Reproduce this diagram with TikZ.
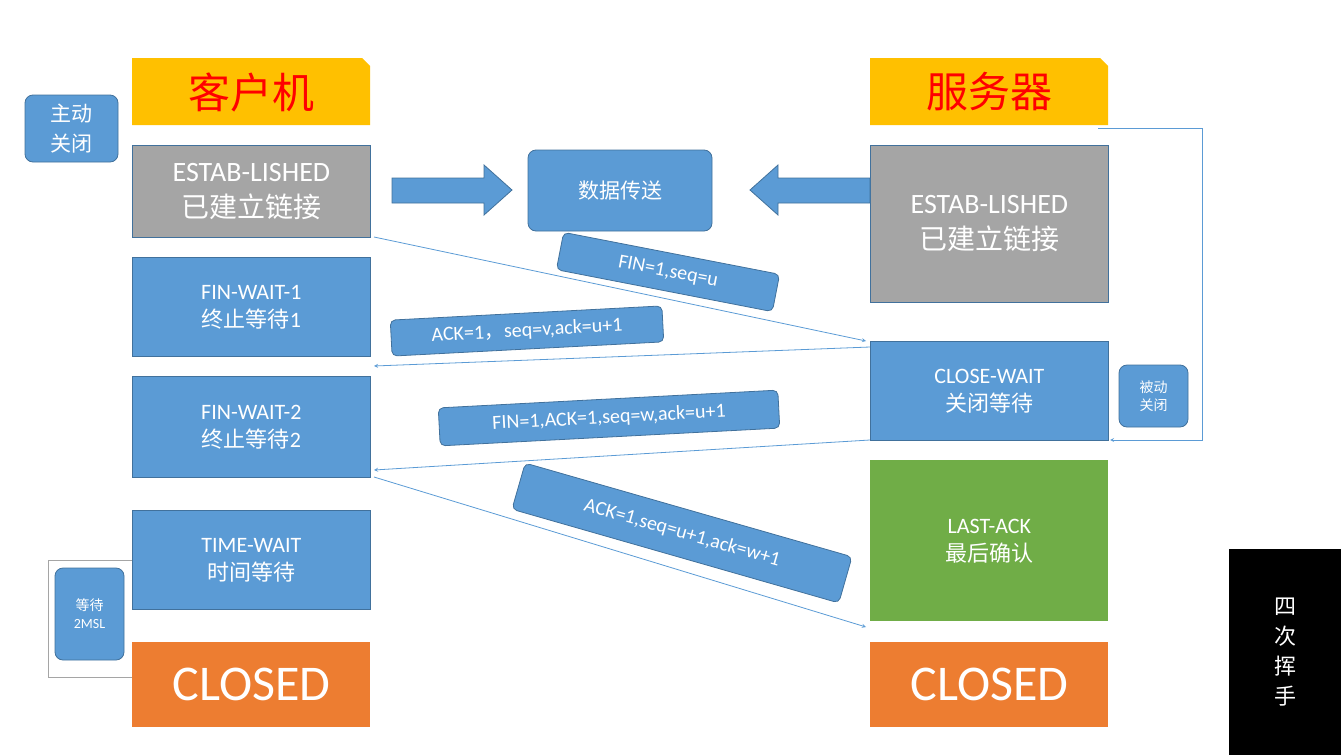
\documentclass[tikz,border=0pt]{standalone}
\usepackage{fontspec}
\setmainfont{Carlito}
\newfontfamily\cjk{Noto Sans CJK SC}
\definecolor{cb}{HTML}{5B9BD5}
\definecolor{cg}{HTML}{A5A5A5}
\definecolor{co}{HTML}{ED7D31}
\definecolor{cgr}{HTML}{70AD47}
\definecolor{cy}{HTML}{FFC000}
\definecolor{cl}{HTML}{41719C}
\begin{document}
\begin{tikzpicture}[x=1pt,y=-1pt,
 st/.style={draw=cl,line width=0.8pt,minimum width=238pt,anchor=north west,text=white,align=center,inner sep=0pt,font=\fontsize{22}{28}\selectfont},
 lab/.style={draw=cl,line width=0.8pt,fill=cb,rounded corners=5pt,text=white,font=\fontsize{20}{22}\selectfont,inner sep=0pt},
 rb/.style={draw=cl,line width=0.8pt,fill=cb,rounded corners=8pt,text=white,align=center,inner sep=0pt,font=\cjk\fontsize{21}{30}\selectfont},
 ba/.style={fill=cb,draw=cl,line width=0.8pt},
 ln/.style={draw=cb,line width=0.8pt,-stealth}]
\useasboundingbox (0,0) rectangle (1341,755);
% headers
\fill[cy] (132,58)--(362,58)--(370,66)--(370,125)--(132,125)--cycle;
\node (hc) at (251,92) {\cjk\fontsize{42}{46}\selectfont\color{red}客户机};
\fill[cy] (870,58)--(1100,58)--(1108,66)--(1108,125)--(870,125)--cycle;
\node (hs) at (989,92) {\cjk\fontsize{42}{46}\selectfont\color{red}服务器};
% states
\node[st,fill=cg,minimum height=92pt,font=\fontsize{28}{36}\selectfont] (ce) at (132,145) {ESTAB-LISHED\\{\cjk 已建立链接}};
\node[st,fill=cb,minimum height=99pt] (fw1) at (132,257) {FIN-WAIT-1\\{\cjk 终止等待}1};
\node[st,fill=cb,minimum height=101pt] (fw2) at (132,376) {FIN-WAIT-2\\{\cjk 终止等待}2};
\node[st,fill=cb,minimum height=99pt] (tw) at (132,510) {TIME-WAIT\\{\cjk 时间等待}};
\node[st,fill=co,draw=none,minimum height=85pt,font=\fontsize{50}{54}\selectfont] (cc) at (132,642) {CLOSED};
\node[st,fill=cg,minimum height=157pt,font=\fontsize{28}{36}\selectfont] (se) at (870,145) {ESTAB-LISHED\\{\cjk 已建立链接}};
\node[st,fill=cb,minimum height=99pt] (cw) at (870,341) {CLOSE-WAIT\\{\cjk 关闭等待}};
\node[st,fill=cgr,draw=none,minimum height=161pt] (la) at (870,460) {LAST-ACK\\{\cjk 最后确认}};
\node[st,fill=co,draw=none,minimum height=85pt,font=\fontsize{50}{54}\selectfont] (sc) at (870,642) {CLOSED};
% side labels
\node[rb,minimum width=93pt,minimum height=67pt] (zd) at (71.5,128.5) {主动\\关闭};
\node[rb,minimum width=184pt,minimum height=81pt] (sj) at (620,190.5) {数据传送};
\node[rb,minimum width=69pt,minimum height=62pt,font=\cjk\fontsize{14}{18}\selectfont] (bd) at (1153.5,396) {被动\\关闭};
\node[rb,minimum width=69pt,minimum height=92pt,font=\fontsize{14}{18}\selectfont] (dd) at (89.5,614) {{\cjk 等待}\\2MSL};
% block arrows
\draw[ba] (392,178)--(484,178)--(484,165)--(512,190)--(484,215)--(484,203)--(392,203)--cycle;
\draw[ba] (870,178)--(778,178)--(778,165)--(750,190)--(778,215)--(778,203)--(870,203)--cycle;
% brackets
\draw[cg,line width=0.8pt] (132,560) -- (48,560) -- (48,677) -- (132,677);
\coordinate (r1) at (1098,128);
\coordinate (r2) at (1110,440);
\draw[ln] (r1) -- (1202,128) -- (1202,440) -- (r2);
% message arrows
\coordinate (p1) at (374,237); \coordinate (p2) at (866,341);
\coordinate (p3) at (870,347); \coordinate (p4) at (374,366);
\coordinate (p5) at (870,440); \coordinate (p6) at (374,470);
\coordinate (p7) at (374,477); \coordinate (p8) at (866,627);
\draw[ln] (p1) -- (p2);
\draw[ln] (p3) -- (p4);
\draw[ln] (p5) -- (p6);
\draw[ln] (p7) -- (p8);
% message labels
\node[lab,minimum width=220pt,minimum height=38pt,rotate=-11] (m1) at (668,272) {FIN=1,seq=u};
\node[lab,minimum width=272pt,minimum height=36pt,rotate=3] (m2) at (527,331) {ACK=1{\cjk ，}seq=v,ack=u+1};
\node[lab,minimum width=340pt,minimum height=38pt,rotate=3] (m3) at (609,418) {FIN=1,ACK=1,seq=w,ack=u+1};
\node[lab,minimum width=340pt,minimum height=48pt,rotate=-16] (m4) at (682,533) {ACK=1,seq=u+1,ack=w+1};
% black box
\node[fill=black,minimum width=112pt,minimum height=206pt,anchor=north west,inner sep=0pt,text=white,align=center,font=\cjk\fontsize{22}{30}\selectfont] (bk) at (1229,549) {四\\次\\挥\\手};
\end{tikzpicture}
\end{document}
